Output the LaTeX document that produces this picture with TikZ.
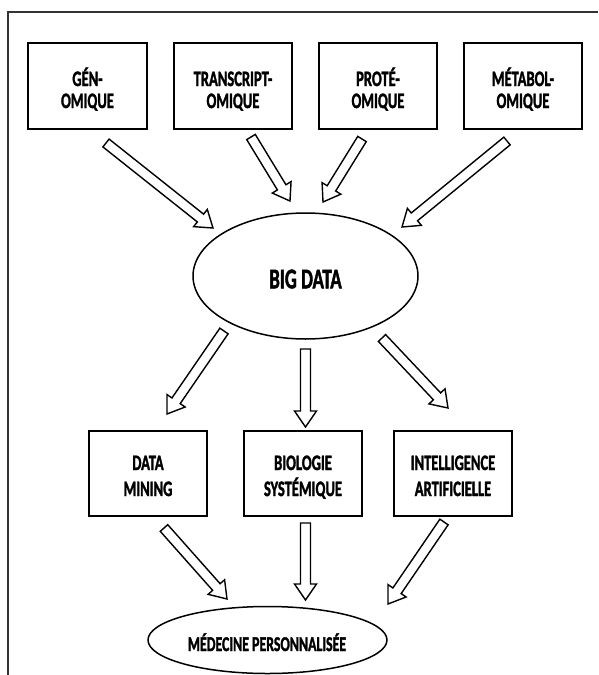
\documentclass[tikz,border=0pt]{standalone}
\usepackage{fontspec}
\setmainfont{Carlito}[BoldFeatures={FakeBold=2}]
\usepackage{graphicx}
\usetikzlibrary{shapes.geometric}

% condensed bold label, first baseline at the node's base anchor
\newcommand\lbltext[3][22]{\scalebox{0.66}[1]{\parbox[t]{280pt}{\centering\fontsize{#2}{#1}\selectfont\bfseries #3}}}

% hollow block arrow from one named point to another
\newcommand\hollowarrow[2]{%
  \pgfpointdiff{\pgfpointanchor{#1}{center}}{\pgfpointanchor{#2}{center}}%
  \pgfgetlastxy{\arrdx}{\arrdy}%
  \pgfmathsetmacro\arrang{atan2(\arrdy,\arrdx)}%
  \pgfmathsetmacro\arrlen{veclen(\arrdx,\arrdy)}%
  \pgfmathsetmacro\arrbase{\arrlen-16}%
  \draw[blockarrow,shift={(#1)},rotate=\arrang]
    (0pt,-5pt) -- (\arrbase pt,-5pt) -- (\arrbase pt,-11pt) -- (\arrlen pt,0pt)
    -- (\arrbase pt,11pt) -- (\arrbase pt,5pt) -- (0pt,5pt) -- cycle;}

\tikzset{
  obox/.style={draw, line width=1.8pt, minimum width=118pt, minimum height=86pt, inner sep=0pt},
  oval/.style={draw, ellipse, line width=1.5pt, inner sep=0pt},
  lbl/.style={anchor=base, inner sep=0pt},
  blockarrow/.style={draw=black, fill=white, line width=1.4pt, line join=miter},
}

\begin{document}
\begin{tikzpicture}[x=1pt, y=-1pt]
\useasboundingbox (0,0) rectangle (598,675);
\fill[white] (0,0) rectangle (598,675);

% outer frame (only top and left edges fall inside the page)
\draw[line width=1.2pt, black!80] (8,675) -- (8,12) -- (598,12);

% omics boxes
\node[obox, minimum width=119pt] (gen) at (87.5,86) {};
\node[obox] (tra) at (233,86) {};
\node[obox] (pro) at (378,86) {};
\node[obox] (met) at (523,86) {};
\node[lbl] (gen-t) at (87.5,86) {\lbltext{22}{GÉN-\\OMIQUE}};
\node[lbl] (tra-t) at (233,86) {\lbltext{22}{TRANSCRIPT-\\OMIQUE}};
\node[lbl] (pro-t) at (378,86) {\lbltext{22}{PROTÉ-\\OMIQUE}};
\node[lbl] (met-t) at (523,86) {\lbltext{22}{MÉTABOL-\\OMIQUE}};

% central ellipse
\node[oval, minimum width=225pt, minimum height=126pt] (big) at (305.5,276) {};
\node[lbl] (big-t) at (305.5,288.3) {\lbltext{28.5}{BIG DATA}};

% analysis boxes
\node[obox, minimum height=85pt] (dm) at (148,473.5) {};
\node[obox, minimum height=85pt] (bio) at (303,473.5) {};
\node[obox, minimum height=85pt] (ia) at (453,473.5) {};
\node[lbl] (dm-t) at (148,470) {\lbltext[26]{22}{DATA\\MINING}};
\node[lbl] (bio-t) at (303,470) {\lbltext[26]{22}{BIOLOGIE\\SYSTÉMIQUE}};
\node[lbl] (ia-t) at (453,470) {\lbltext[26]{22}{INTELLIGENCE\\ARTIFICIELLE}};

% outcome ellipse
\node[oval, minimum width=239pt, minimum height=67pt] (med) at (267.5,640) {};
\node[lbl] (med-t) at (267,651) {\lbltext{21}{MÉDECINE PERSONNALISÉE}};

% arrow end points
\coordinate (gen-o) at (106,143);  \coordinate (big-i1) at (213,228);
\coordinate (tra-o) at (251,137);  \coordinate (big-i2) at (290,201);
\coordinate (pro-o) at (362,139);  \coordinate (big-i3) at (323,202);
\coordinate (met-o) at (507,141);  \coordinate (big-i4) at (402,227);
\coordinate (big-o1) at (224,331); \coordinate (dm-i) at (167,414);
\coordinate (big-o2) at (305.5,349); \coordinate (bio-i) at (305.5,427);
\coordinate (big-o3) at (382,338); \coordinate (ia-i) at (448,408);
\coordinate (dm-o) at (164,528);   \coordinate (med-i1) at (227,599);
\coordinate (bio-o) at (305.5,523); \coordinate (med-i2) at (305.5,600);
\coordinate (ia-o) at (444,522);   \coordinate (med-i3) at (388,604);

\hollowarrow{gen-o}{big-i1}
\hollowarrow{tra-o}{big-i2}
\hollowarrow{pro-o}{big-i3}
\hollowarrow{met-o}{big-i4}
\hollowarrow{big-o1}{dm-i}
\hollowarrow{big-o2}{bio-i}
\hollowarrow{big-o3}{ia-i}
\hollowarrow{dm-o}{med-i1}
\hollowarrow{bio-o}{med-i2}
\hollowarrow{ia-o}{med-i3}
\end{tikzpicture}
\end{document}
